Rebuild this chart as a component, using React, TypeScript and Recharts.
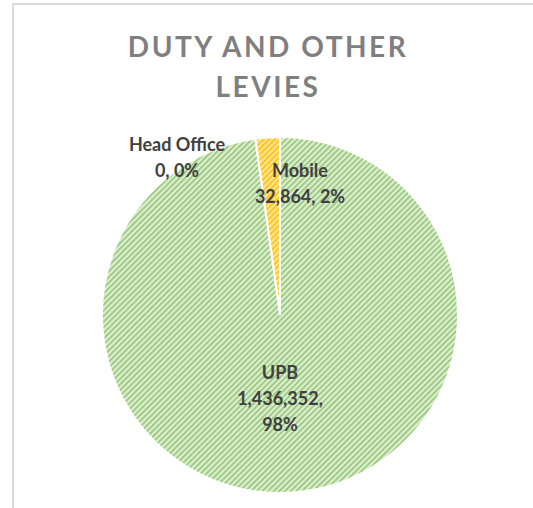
import React from 'react';
import { PieChart, Pie, Cell } from 'recharts';

const categories = ['Head Office', 'Mobile', 'UPB'];
const levies = [0, 32864, 1436352];

const chartData = categories.map((name, i) => ({ name, value: levies[i] }));

const FILLS = ['url(#stripeBlue)', 'url(#stripeGold)', 'url(#stripeGreen)'];

// where Excel's "best fit" dropped each label, relative to the pie centre
const LABEL_SPOT: Record<string, { dx: number; dy: number; split: boolean }> = {
  'Head Office': { dx: -103, dy: -164, split: false },
  Mobile: { dx: 20, dy: -138, split: false },
  UPB: { dx: 0, dy: 64, split: true },
};

const fmt = (v: number) => v.toLocaleString('en-US');

const renderLabel = (props: any) => {
  const { cx, cy, name, value, percent } = props;
  const spot = LABEL_SPOT[name];
  if (!spot) return null;
  const pct = `${Math.round((percent || 0) * 100)}%`;
  const lines = spot.split ? [name, `${fmt(value)},`, pct] : [name, `${fmt(value)}, ${pct}`];
  return (
    <text
      x={cx + spot.dx}
      y={cy + spot.dy}
      textAnchor="middle"
      fill="#404040"
      fontFamily="Lato, 'Open Sans', sans-serif"
      fontWeight="bold"
      fontSize={18}
    >
      {lines.map((l, i) => (
        <tspan key={i} x={cx + spot.dx} dy={i === 0 ? 0 : 26}>
          {l}
        </tspan>
      ))}
    </text>
  );
};

export default function App() {
  return (
    <div style={{ position: 'absolute', left: 0, top: 0, width: 533, height: 508, overflow: 'hidden', background: '#fff' }}>
      <div
        style={{
          position: 'absolute',
          left: 12,
          top: 3,
          width: 560,
          height: 560,
          border: '2px solid #d9d9d9',
        }}
      />
      <div
        style={{
          position: 'absolute',
          left: 0,
          width: 536,
          top: 26,
          textAlign: 'center',
          fontFamily: 'Lato, sans-serif',
          fontWeight: 'bold',
          fontSize: 28,
          lineHeight: '40px',
          letterSpacing: 2.5,
          color: '#7f7f7f',
        }}
      >
        DUTY AND OTHER
        <br />
        LEVIES
      </div>
      <div style={{ position: 'absolute', left: 0, top: 0 }}>
        <PieChart width={533} height={508}>
          <defs>
            <pattern id="stripeGreen" patternUnits="userSpaceOnUse" width={4} height={4} patternTransform="rotate(45)">
              <rect width={4} height={4} fill="#dcedd1" />
              <rect width={1.5} height={4} fill="#8ec36c" />
            </pattern>
            <pattern id="stripeGold" patternUnits="userSpaceOnUse" width={4} height={4} patternTransform="rotate(45)">
              <rect width={4} height={4} fill="#ffe49a" />
              <rect width={1.6} height={4} fill="#ffc000" />
            </pattern>
            <pattern id="stripeBlue" patternUnits="userSpaceOnUse" width={4} height={4} patternTransform="rotate(45)">
              <rect width={4} height={4} fill="#c9d8ef" />
              <rect width={1.6} height={4} fill="#4472c4" />
            </pattern>
          </defs>
          <Pie
            data={chartData}
            dataKey="value"
            nameKey="name"
            cx={275}
            cy={310}
            outerRadius={178}
            startAngle={98}
            endAngle={-262}
            stroke="#ffffff"
            strokeWidth={2}
            labelLine={false}
            label={renderLabel}
            isAnimationActive={false}
          >
            {chartData.map((entry, index) => (
              <Cell key={`cell-${index}`} fill={FILLS[index % FILLS.length]} />
            ))}
          </Pie>
        </PieChart>
      </div>
    </div>
  );
}
